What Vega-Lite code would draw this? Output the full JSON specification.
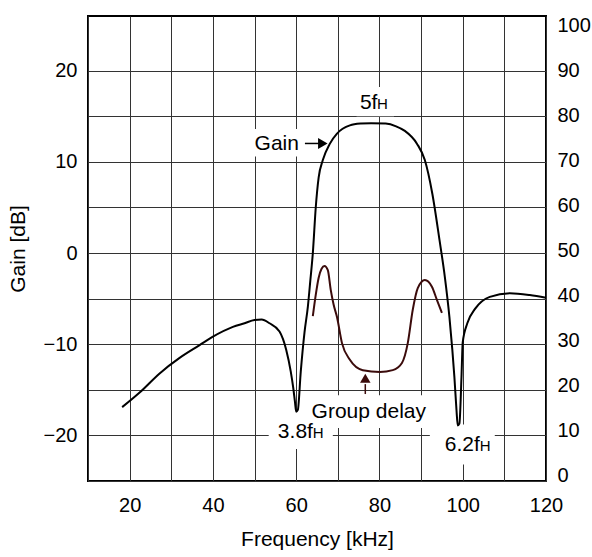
{
  "$schema": "https://vega.github.io/schema/vega-lite/v6.json",
  "width": 458,
  "height": 465,
  "autosize": {"type": "none"},
  "padding": {"left": 88, "top": 16, "right": 46, "bottom": 76},
  "background": "white",
  "config": {
    "view": {"stroke": "black", "strokeWidth": 2},
    "font": "Liberation Sans",
    "axis": {
      "labelFont": "Liberation Sans",
      "titleFont": "Liberation Sans",
      "labelColor": "black",
      "titleColor": "black",
      "labelFontSize": 20,
      "titleFontSize": 21,
      "titleFontWeight": "normal",
      "ticks": false,
      "tickSize": 0,
      "domain": false,
      "gridColor": "#333333",
      "gridOpacity": 1,
      "gridWidth": 1,
      "labelOverlap": false,
      "labelFlush": false
    }
  },
  "datasets": {
    "gain": [
      {"f": 18.2, "g": -16.9}, {"f": 22.4, "g": -15.3}, {"f": 27.2, "g": -13.2},
      {"f": 32.0, "g": -11.5}, {"f": 36.8, "g": -10.1}, {"f": 39.9, "g": -9.2},
      {"f": 44.8, "g": -8.1}, {"f": 47.6, "g": -7.7}, {"f": 50.0, "g": -7.35},
      {"f": 51.7, "g": -7.3}, {"f": 53.6, "g": -7.7}, {"f": 56.0, "g": -8.6},
      {"f": 57.6, "g": -10.6}, {"f": 58.7, "g": -13.0}, {"f": 59.3, "g": -14.8},
      {"f": 59.7, "g": -16.3}, {"f": 60.0, "g": -17.4}, {"f": 60.4, "g": -17.2},
      {"f": 61.1, "g": -13.0}, {"f": 62.0, "g": -8.7}, {"f": 62.8, "g": -5.9},
      {"f": 63.4, "g": -3.0}, {"f": 64.0, "g": 0.0}, {"f": 64.7, "g": 5.0},
      {"f": 65.4, "g": 8.3}, {"f": 66.4, "g": 10.2}, {"f": 68.1, "g": 12.0},
      {"f": 69.8, "g": 13.1}, {"f": 72.9, "g": 14.0}, {"f": 75.5, "g": 14.2},
      {"f": 78.0, "g": 14.25}, {"f": 81.5, "g": 14.2}, {"f": 84.0, "g": 13.9},
      {"f": 86.1, "g": 13.4}, {"f": 89.0, "g": 12.0}, {"f": 90.9, "g": 10.2},
      {"f": 92.7, "g": 6.5}, {"f": 94.4, "g": 1.5}, {"f": 95.7, "g": -2.6},
      {"f": 96.8, "g": -7.0}, {"f": 97.5, "g": -10.6}, {"f": 98.0, "g": -13.6},
      {"f": 98.5, "g": -17.2}, {"f": 98.8, "g": -18.9}, {"f": 99.2, "g": -18.7},
      {"f": 99.7, "g": -13.6}, {"f": 100.0, "g": -9.8}, {"f": 101.1, "g": -7.7},
      {"f": 103.0, "g": -6.1}, {"f": 106.5, "g": -4.8}, {"f": 111.3, "g": -4.4},
      {"f": 116.1, "g": -4.6}, {"f": 120.0, "g": -4.9}
    ],
    "delay": [
      {"f": 64.0, "d": 35.4}, {"f": 64.7, "d": 40.1}, {"f": 65.4, "d": 43.9},
      {"f": 66.1, "d": 45.9}, {"f": 66.8, "d": 46.5}, {"f": 67.6, "d": 45.6},
      {"f": 68.3, "d": 41.2}, {"f": 69.0, "d": 37.9}, {"f": 69.8, "d": 35.2},
      {"f": 71.0, "d": 29.4}, {"f": 72.9, "d": 25.7}, {"f": 76.0, "d": 23.4},
      {"f": 80.1, "d": 23.0}, {"f": 83.2, "d": 23.4}, {"f": 85.4, "d": 25.0},
      {"f": 86.8, "d": 29.4}, {"f": 88.0, "d": 36.8}, {"f": 89.2, "d": 41.6},
      {"f": 90.9, "d": 43.4}, {"f": 92.6, "d": 41.9}, {"f": 93.8, "d": 39.0},
      {"f": 95.0, "d": 36.1}
    ],
    "boxes": [
      {"f": 48.8, "f2": 61.6, "g": 10.6, "g2": 13.6},
      {"f": 74.5, "f2": 83.5, "g": 15.0, "g2": 18.2},
      {"f": 63.0, "f2": 92.3, "g": -19.2, "g2": -15.6},
      {"f": 53.4, "f2": 68.8, "g": -21.5, "g2": -17.4},
      {"f": 92.1, "f2": 107.7, "g": -23.2, "g2": -18.8}
    ],
    "labels": [
      {"f": 50.0, "g": 11.26, "t": "Gain"},
      {"f": 75.3, "g": 15.85, "t": "5f"},
      {"f": 63.7, "g": -18.1, "t": "Group delay"},
      {"f": 55.6, "g": -20.25, "t": "3.8f"},
      {"f": 95.7, "g": -21.7, "t": "6.2f"}
    ],
    "subs": [
      {"f": 79.4, "g": 15.85, "t": "H"},
      {"f": 64.0, "g": -20.25, "t": "H"},
      {"f": 104.1, "g": -21.7, "t": "H"}
    ],
    "gainArrow": [{"f": 62.1, "f2": 65.6, "g": 12.02}],
    "gainHead": [{"f": 66.4, "g": 12.02}],
    "delayArrow": [{"f": 76.6, "d": 18.1, "d2": 20.3}],
    "delayHead": [{"f": 76.6, "d": 21.6}]
  },
  "layer": [
    {
      "encoding": {
        "x": {
          "field": "f", "type": "quantitative",
          "scale": {"domain": [10, 120], "nice": false, "zero": false},
          "axis": {
            "orient": "bottom",
            "values": [10, 20, 30, 40, 50, 60, 70, 80, 90, 100, 110, 120],
            "labelExpr": "datum.value % 20 === 0 ? datum.label : ''",
            "grid": true,
            "labelPadding": 14,
            "title": "Frequency [kHz]",
            "titlePadding": 13
          }
        },
        "y": {
          "field": "g", "type": "quantitative",
          "scale": {"domain": [-25, 26], "nice": false, "zero": false},
          "axis": {
            "orient": "left",
            "values": [-25, -20, -15, -10, -5, 0, 5, 10, 15, 20],
            "labelExpr": "datum.value % 10 === 0 ? datum.label : ''",
            "grid": true,
            "labelPadding": 11,
            "title": "Gain [dB]",
            "titleX": -70,
            "titleY": 232.5,
            "titleBaseline": "middle"
          }
        }
      },
      "layer": [
        {
          "data": {"name": "boxes"},
          "mark": {"type": "rect", "fill": "white", "strokeWidth": 0},
          "encoding": {"x2": {"field": "f2"}, "y2": {"field": "g2"}}
        },
        {
          "data": {"name": "gain"},
          "mark": {"type": "line", "color": "black", "strokeWidth": 2, "interpolate": "monotone"}
        },
        {
          "data": {"name": "gainArrow"},
          "mark": {"type": "rule", "color": "black", "strokeWidth": 1.5},
          "encoding": {"x2": {"field": "f2"}}
        },
        {
          "data": {"name": "gainHead"},
          "mark": {"type": "point", "shape": "triangle-right", "filled": true, "color": "black", "size": 120, "opacity": 1}
        },
        {
          "data": {"name": "labels"},
          "mark": {"type": "text", "align": "left", "baseline": "alphabetic", "fontSize": 21, "font": "Liberation Sans", "color": "black"},
          "encoding": {"text": {"field": "t"}}
        },
        {
          "data": {"name": "subs"},
          "mark": {"type": "text", "align": "left", "baseline": "alphabetic", "fontSize": 15, "font": "Liberation Sans", "color": "black"},
          "encoding": {"text": {"field": "t"}}
        }
      ]
    },
    {
      "encoding": {
        "x": {
          "field": "f", "type": "quantitative",
          "scale": {"domain": [10, 120], "nice": false, "zero": false},
          "axis": {
            "orient": "bottom",
            "values": [10, 20, 30, 40, 50, 60, 70, 80, 90, 100, 110, 120],
            "labelExpr": "datum.value % 20 === 0 ? datum.label : ''",
            "grid": true,
            "labelPadding": 14,
            "title": "Frequency [kHz]",
            "titlePadding": 13
          }
        },
        "y": {
          "field": "d", "type": "quantitative",
          "scale": {"domain": [-1.2, 102], "nice": false, "zero": false},
          "axis": {
            "orient": "right",
            "values": [0, 10, 20, 30, 40, 50, 60, 70, 80, 90, 100],
            "grid": false,
            "labelPadding": 11,
            "title": null
          }
        }
      },
      "layer": [
        {
          "data": {"name": "delay"},
          "mark": {"type": "line", "color": "#3b0b0b", "strokeWidth": 2, "interpolate": "monotone"}
        },
        {
          "data": {"name": "delayArrow"},
          "mark": {"type": "rule", "color": "#3b0b0b", "strokeWidth": 1.5},
          "encoding": {"y2": {"field": "d2"}}
        },
        {
          "data": {"name": "delayHead"},
          "mark": {"type": "point", "shape": "triangle-up", "filled": true, "color": "#3b0b0b", "size": 110, "opacity": 1}
        }
      ]
    }
  ],
  "resolve": {"scale": {"y": "independent"}}
}
